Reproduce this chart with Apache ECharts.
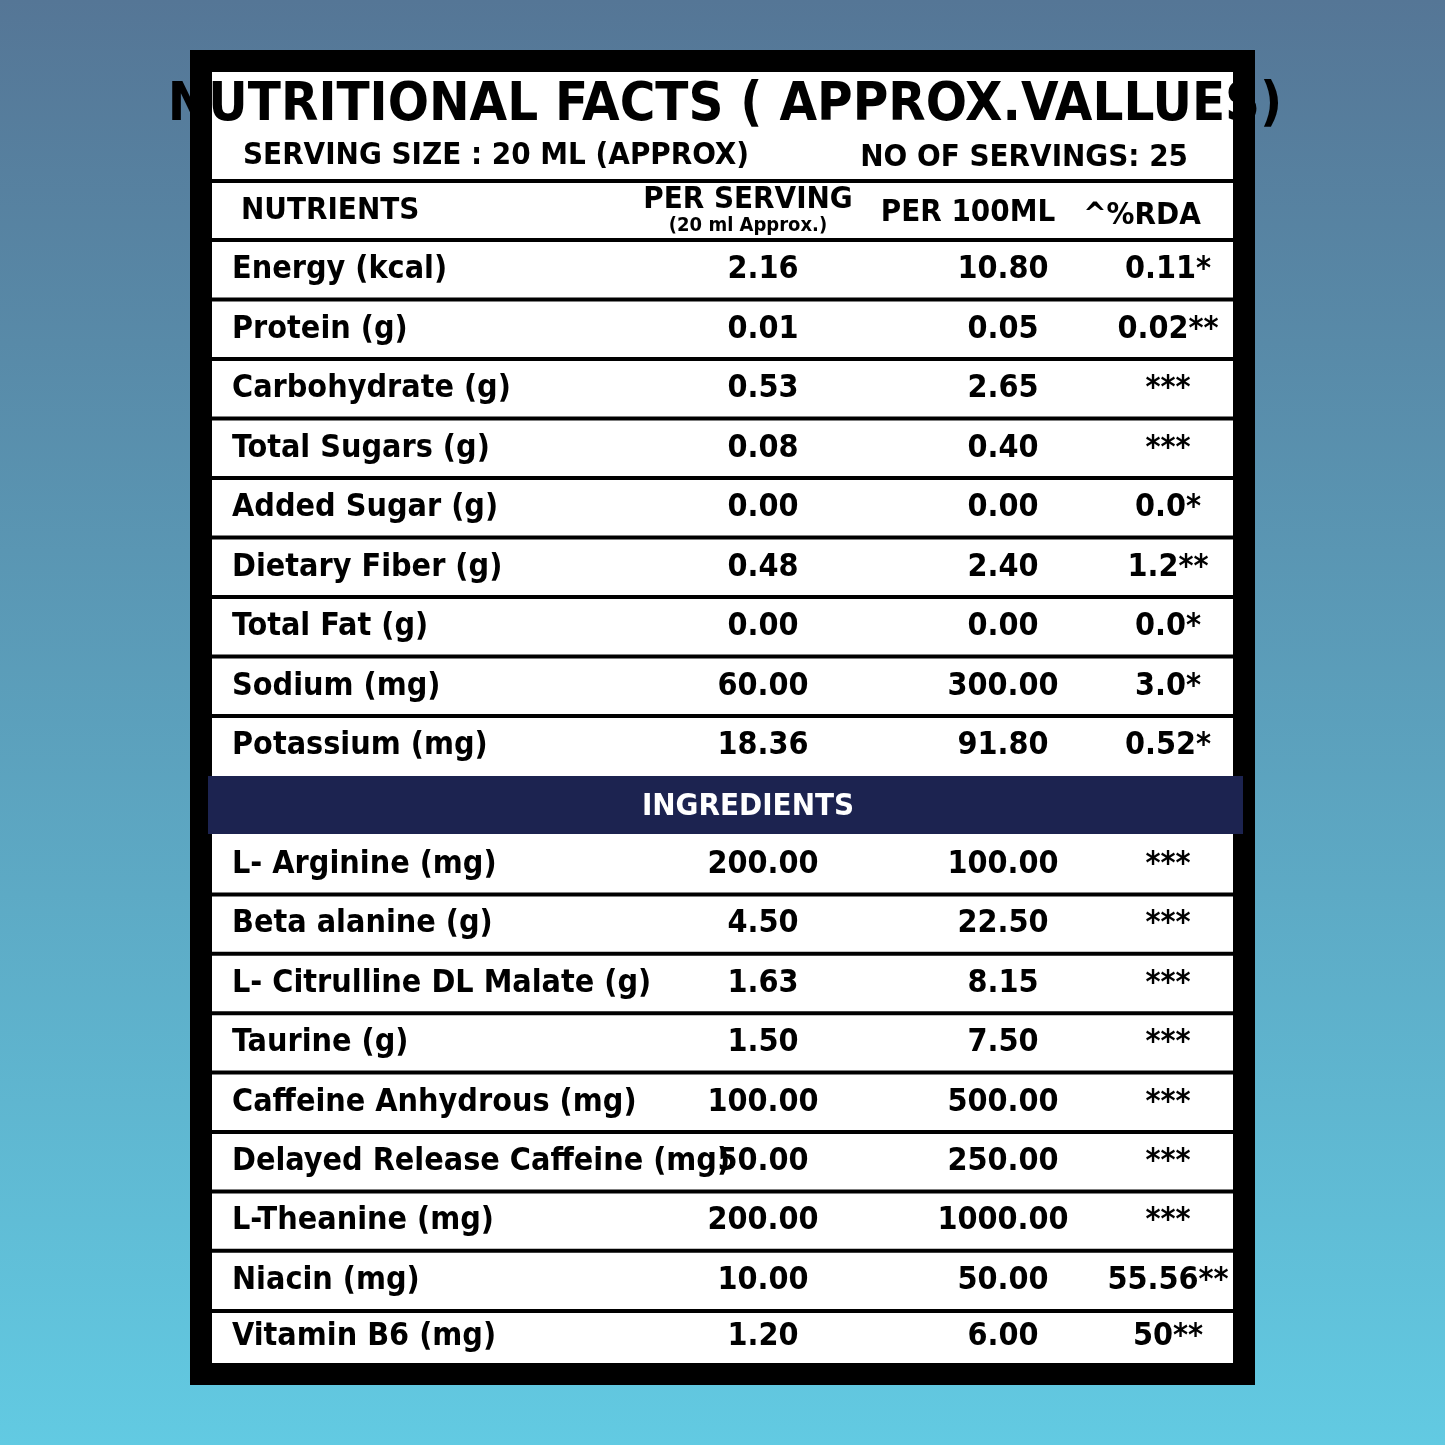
<!DOCTYPE html>
<html>
<head>
<meta charset="utf-8">
<script src="https://cdn.jsdelivr.net/npm/echarts@6/dist/echarts.min.js"></script>
<style>html,body{margin:0;padding:0}#main{width:1445px;height:1445px}</style>
</head>
<body>
<div id="main"></div>
<script>
// nutrients table
var nutrients=['Energy (kcal)','Protein (g)','Carbohydrate (g)','Total Sugars (g)','Added Sugar (g)','Dietary Fiber (g)','Total Fat (g)','Sodium (mg)','Potassium (mg)'];
var nutPerServing=['2.16','0.01','0.53','0.08','0.00','0.48','0.00','60.00','18.36'];
var nutPer100=['10.80','0.05','2.65','0.40','0.00','2.40','0.00','300.00','91.80'];
var nutRda=['0.11*','0.02**','***','***','0.0*','1.2**','0.0*','3.0*','0.52*'];

// ingredients table
var ingredients=['L- Arginine (mg)','Beta alanine (g)','L- Citrulline DL Malate (g)','Taurine (g)','Caffeine Anhydrous (mg)','Delayed Release Caffeine (mg)','L-Theanine (mg)','Niacin (mg)','Vitamin B6 (mg)'];
var ingPerServing=['200.00','4.50','1.63','1.50','100.00','50.00','200.00','10.00','1.20'];
var ingPer100=['100.00','22.50','8.15','7.50','500.00','250.00','1000.00','50.00','6.00'];
var ingRda=['***','***','***','***','***','***','***','55.56**','50**'];

var FONT='"Liberation Sans Narrow","DejaVu Sans Condensed",sans-serif';
var g=[];

function txt(x,y,s,size,align,color){
	g.push({type:'text',x:x,y:y,style:{text:s,fill:color||'#000',font:'bold '+size+'px '+FONT,textAlign:align||'left',textVerticalAlign:'middle'}});
}
function hline(y){
	g.push({type:'rect',shape:{x:212,y:y-2,width:1021,height:4},style:{fill:'#000'}});
}

// frame
g.push({type:'rect',shape:{x:190,y:50,width:1065,height:1335},style:{fill:'#000'}});
g.push({type:'rect',shape:{x:212,y:72,width:1021,height:1291},style:{fill:'#fff'}});

// title block
txt(725,106,'NUTRITIONAL FACTS ( APPROX.VALLUES)',54,'center');
txt(243,156,'SERVING SIZE : 20 ML (APPROX)',31);
txt(1188,158,'NO OF SERVINGS: 25',31,'right');
hline(181);
txt(241,211,'NUTRIENTS',31);
txt(748,200,'PER SERVING',31,'center');
txt(748,226,'(20 ml Approx.)',20,'center');
txt(968,213,'PER 100ML',31,'center');
txt(1142,216,'^%RDA',31,'center');
hline(240);

function rows(top,h,names,a,b,c){
	for(var i=0;i<names.length;i++){
		var cy=top+h*i+h/2;
		txt(232,cy,names[i],32);
		txt(763,cy,a[i],32,'center');
		txt(1003,cy,b[i],32,'center');
		txt(1168,cy,c[i],32,'center');
		if(i<names.length-1) hline(top+h*(i+1));
	}
}
rows(240,59.5,nutrients,nutPerServing,nutPer100,nutRda);

// ingredients bar
g.push({type:'rect',shape:{x:208,y:776,width:1035,height:58},style:{fill:'#1c2350'}});
txt(748,807,'INGREDIENTS',31,'center','#fff');
rows(835,59.4,ingredients.slice(0,8),ingPerServing,ingPer100,ingRda);
hline(1311);
txt(232,1337,ingredients[8],32);
txt(763,1337,ingPerServing[8],32,'center');
txt(1003,1337,ingPer100[8],32,'center');
txt(1168,1337,ingRda[8],32,'center');

var chart=echarts.init(document.getElementById('main'));
chart.setOption({
	backgroundColor:{type:'linear',x:0,y:0,x2:0,y2:1,colorStops:[{offset:0,color:'#557696'},{offset:1,color:'#62cae2'}]},
	graphic:g
});
</script>
</body>
</html>
